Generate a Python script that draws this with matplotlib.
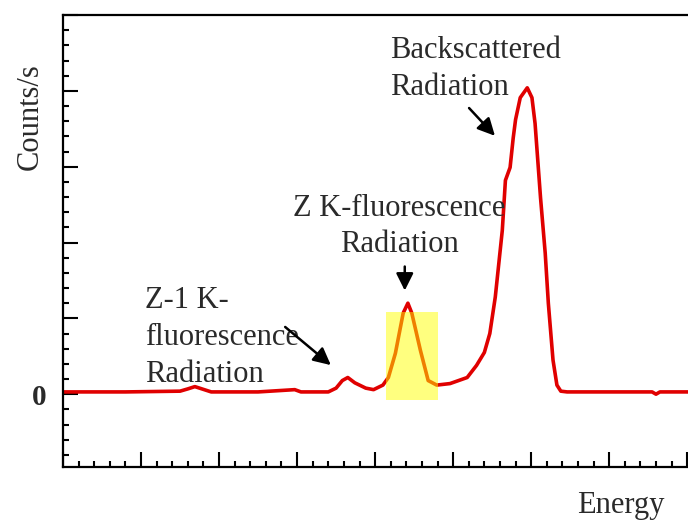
import numpy as np
import matplotlib.pyplot as plt
from matplotlib.patches import Rectangle
from matplotlib.ticker import MultipleLocator, FixedLocator

# -----------------------------
# Spectrum
# -----------------------------
energy = [0.0, 0.8, 1.5, 1.6, 1.69, 1.78, 1.9, 2.5, 2.97, 3.05, 3.4, 3.5, 3.58,
          3.65, 3.74, 3.88, 3.98, 4.10, 4.17, 4.26, 4.36, 4.42, 4.47, 4.58,
          4.68, 4.79, 4.96, 5.18, 5.30, 5.40, 5.47, 5.54, 5.63, 5.67, 5.73,
          5.77, 5.80, 5.86, 5.95, 6.01, 6.05, 6.12, 6.18, 6.22, 6.28, 6.33,
          6.38, 6.46, 7.55, 7.6, 7.65, 8.0]
counts = [0.03, 0.03, 0.04, 0.07, 0.10, 0.07, 0.03, 0.03, 0.06, 0.03, 0.03, 0.08,
          0.18, 0.22, 0.15, 0.08, 0.06, 0.12, 0.22, 0.54, 1.07, 1.20, 1.07,
          0.58, 0.18, 0.12, 0.14, 0.22, 0.38, 0.55, 0.80, 1.28, 2.16, 2.82,
          2.99, 3.38, 3.62, 3.91, 4.04, 3.91, 3.57, 2.59, 1.86, 1.20, 0.45,
          0.12, 0.04, 0.03, 0.03, 0.0, 0.03, 0.03]

# highlighted window around the Z K line
window = (4.14, 4.81)
window_y = (-0.08, 1.09)

serif = ['Liberation Serif', 'DejaVu Serif']
txt_col = '#2a2a2a'

fig = plt.figure(figsize=(6.88, 5.23), dpi=100)
ax = fig.add_axes([63/688, 56/523, 1 - 63/688, (467-15)/523])

ax.plot(energy, counts, color='#e00000', linewidth=2.6, solid_joinstyle='round', zorder=2)
ax.add_patch(Rectangle((window[0], window_y[0]), window[1]-window[0], window_y[1]-window_y[0],
                       facecolor='#ffff00', alpha=0.5, edgecolor='none', zorder=3))

ax.set_xlim(0, 8.01)
ax.set_ylim(-0.96, 5.0)

for s in ['left', 'bottom', 'top']:
    ax.spines[s].set_linewidth(1.6)
ax.spines['right'].set_visible(False)

ax.xaxis.set_major_locator(MultipleLocator(1))
ax.xaxis.set_minor_locator(MultipleLocator(0.2))
ax.yaxis.set_minor_locator(MultipleLocator(0.2))
ax.tick_params(which='major', direction='in', length=11, width=1.5)
ax.tick_params(which='minor', direction='in', length=4, width=1.5)
ax.tick_params(top=False, right=False)
ax.set_xticklabels([])
ax.yaxis.set_major_locator(FixedLocator([-1, 0, 1, 2, 3, 4, 5]))
ax.set_yticklabels(['', '0', '', '', '', '', ''], fontsize=21, fontweight='bold',
                   family=serif, color=txt_col)
ax.tick_params(axis='y', pad=12)

fig.text(30/688, 1 - 117/523, 'Counts/s', rotation=90, ha='center', va='center',
         fontsize=22, family=serif, color=txt_col)
fig.text(621/688, 1 - 505/523, 'Energy', ha='center', va='center',
         fontsize=22, family=serif, color=txt_col)

ax.text(4.19, 4.29, 'Backscattered\nRadiation', ha='left', va='center',
        fontsize=22, family=serif, color=txt_col, linespacing=1.35)
ax.text(4.31, 2.21, 'Z K-fluorescence\nRadiation', ha='center', va='center',
        fontsize=22, family=serif, color=txt_col, linespacing=1.35)
ax.text(1.05, 0.75, 'Z-1 K-\nfluorescence\nRadiation', ha='left', va='center',
        fontsize=22, family=serif, color=txt_col, linespacing=1.35)

arrow = dict(arrowstyle='-|>', color='black', lw=1.8, mutation_scale=26)
ax.annotate('', xy=(5.56, 3.38), xytext=(5.18, 3.80), arrowprops=arrow)
ax.annotate('', xy=(4.38, 1.33), xytext=(4.38, 1.72), arrowprops=arrow)
ax.annotate('', xy=(3.46, 0.36), xytext=(2.82, 0.91), arrowprops=arrow)

fig.savefig('out.png', dpi=100)
